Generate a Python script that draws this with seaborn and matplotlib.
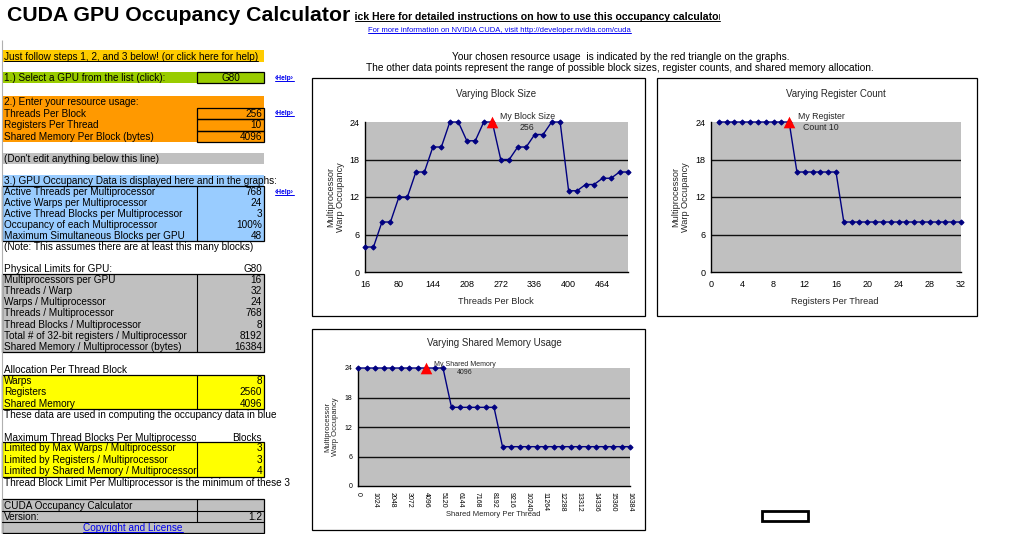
import numpy as np
import pandas as pd
import matplotlib
matplotlib.use("Agg")
import matplotlib.pyplot as plt
import seaborn as sns
from matplotlib.patches import Rectangle
from matplotlib.transforms import Bbox, TransformedBbox

# ---------------- data ----------------
block_sizes = [16, 32, 48, 64, 80, 96, 112, 128, 144, 160, 176, 192, 208, 224, 240, 256,
               272, 288, 304, 320, 336, 352, 368, 384, 400, 416, 432, 448, 464, 480, 496, 512]
block_occupancy = [4, 4, 8, 8, 12, 12, 16, 16, 20, 20, 24, 24, 21, 21, 24, 24,
                   18, 18, 20, 20, 22, 22, 24, 24, 13, 13, 14, 14, 15, 15, 16, 16]
register_counts = [1, 2, 3, 4, 5, 6, 7, 8, 9, 10, 11, 12, 13, 14, 15, 16,
                   17, 18, 19, 20, 21, 22, 23, 24, 25, 26, 27, 28, 29, 30, 31, 32]
register_occupancy = [24, 24, 24, 24, 24, 24, 24, 24, 24, 24, 16, 16, 16, 16, 16, 16,
                      8, 8, 8, 8, 8, 8, 8, 8, 8, 8, 8, 8, 8, 8, 8, 8]
smem_sizes = [0, 512, 1024, 1536, 2048, 2560, 3072, 3584, 4096, 4608, 5120, 5632, 6144,
              6656, 7168, 7680, 8192, 8704, 9216, 9728, 10240, 10752, 11264, 11776, 12288,
              12800, 13312, 13824, 14336, 14848, 15360, 15872, 16384]
smem_occupancy = [24, 24, 24, 24, 24, 24, 24, 24, 24, 24, 24, 16, 16, 16, 16, 16, 16,
                  8, 8, 8, 8, 8, 8, 8, 8, 8, 8, 8, 8, 8, 8, 8, 8]

my_block_size, my_block_occ = 256, 24
my_registers, my_reg_occ = 10, 24
my_smem, my_smem_occ = 4096, 24

occupancy_ticks = [0, 6, 12, 18, 24]
block_ticks = [16, 80, 144, 208, 272, 336, 400, 464]
register_ticks = [0, 4, 8, 12, 16, 20, 24, 28, 32]
smem_ticks = [0, 1024, 2048, 3072, 4096, 5120, 6144, 7168, 8192, 9216, 10240,
              11264, 12288, 13312, 14336, 15360, 16384]

gpu_name = "G80"
input_labels = ["Threads Per Block", "Registers Per Thread", "Shared Memory Per Block (bytes)"]
input_values = ["256", "10", "4096"]
occ_labels = ["Active Threads per Multiprocessor", "Active Warps per Multiprocessor",
              "Active Thread Blocks per Multiprocessor", "Occupancy of each Multiprocessor",
              "Maximum Simultaneous Blocks per GPU"]
occ_values = ["768", "24", "3", "100%", "48"]
limit_labels = ["Multiprocessors per GPU", "Threads / Warp", "Warps / Multiprocessor",
                "Threads / Multiprocessor", "Thread Blocks / Multiprocessor",
                "Total # of 32-bit registers / Multiprocessor",
                "Shared Memory / Multiprocessor (bytes)"]
limit_values = ["16", "32", "24", "768", "8", "8192", "16384"]
alloc_labels = ["Warps", "Registers", "Shared Memory"]
alloc_values = ["8", "2560", "4096"]
blocklim_labels = ["Limited by Max Warps / Multiprocessor", "Limited by Registers / Multiprocessor",
                   "Limited by Shared Memory / Multiprocessor"]
blocklim_values = ["3", "3", "4"]
version_value = "1.2"

# ---------------- style ----------------
sns.set_style("white")
plt.rcParams['font.family'] = ['Liberation Sans', 'DejaVu Sans']

W, H = 1023, 534
fig = plt.figure(figsize=(W / 100, H / 100), dpi=100)
fig.patch.set_facecolor("white")

bg = fig.add_axes([0, 0, 1, 1])
bg.set_xlim(0, W)
bg.set_ylim(H, 0)
bg.axis("off")

NAVY = "#000080"
FS = 7.2
underlined = []


def rect(x0, y0, x1, y1, fc="none", ec="none", lw=0.8, z=1):
    bg.add_patch(Rectangle((x0, y0), x1 - x0, y1 - y0, facecolor=fc, edgecolor=ec,
                           linewidth=lw, zorder=z))


def txt(x, y, s, ha="left", size=FS, color="black", weight="normal", under=False,
        clip=None, **kw):
    t = bg.text(x, y + 0.6, s, ha=ha, va="center", fontsize=size, color=color,
                fontweight=weight, zorder=5, **kw)
    if clip is not None:
        t.set_clip_box(TransformedBbox(Bbox([[clip[0], 0], [clip[1], H]]), bg.transData))
        t.set_clip_on(True)
    if under:
        underlined.append((t, color, clip))
    return t


def vline(x, y0, y1, color="black", lw=0.8):
    bg.plot([x, x], [y0, y1], color=color, lw=lw, zorder=3, solid_capstyle="butt")


L, DIV, R = 2, 197, 264
VX = 262

# title & header texts
txt(7, 14.5, "CUDA GPU Occupancy Calculator", size=15.3, weight="bold")
txt(344, 16, "Click Here for detailed instructions on how to use this occupancy calculator",
    size=7.6, weight="bold", under=True, clip=(355, 720))
txt(368, 30, "For more information on NVIDIA CUDA, visit http://developer.nvidia.com/cuda",
    size=5.5, color="#0000EE", under=True)
txt(621, 56, "Your chosen resource usage  is indicated by the red triangle on the graphs.",
    ha="center", size=7.3)
txt(620, 67, "The other data points represent the range of possible block sizes, register "
             "counts, and shared memory allocation.", ha="center", size=7.3)

# left spreadsheet gridline
vline(1.5, 40, H, color="#B0B0B0", lw=0.8)

# step banner
rect(L, 50, R, 62, fc="#FFCC00")
txt(4, 56, "Just follow steps 1, 2, and 3 below! (or click here for help)", under=True)

# 1.) GPU
rect(L, 71.5, R, 83, fc="#99CC00")
txt(4, 77.5, "1.) Select a GPU from the list (click):")
rect(DIV, 71.5, R, 83, ec="black", lw=0.9, z=2)
txt((DIV + R) / 2, 77.5, gpu_name, ha="center")


def help_link(y):
    txt(275, y, "\u2039Help\u203a", size=4.8, color="#0000EE", weight="bold", under=True)


help_link(77.5)

# 2.) resource usage
rect(L, 96, R, 141.5, fc="#FF9900")
txt(4, 101.5, "2.) Enter your resource usage:")
row_h = 11.5
for i, (lab, val) in enumerate(zip(input_labels, input_values)):
    y0 = 107.5 + i * row_h
    txt(4, y0 + row_h / 2, lab)
    rect(DIV, y0, R, y0 + row_h, ec="black", lw=0.9, z=2)
    txt(VX, y0 + row_h / 2, val, ha="right")
help_link(113)

# don't edit
rect(L, 152.5, R, 163.5, fc="#C0C0C0")
txt(4, 158, "(Don't edit anything below this line)")

# 3.) occupancy data
rect(L, 175, R, 186, fc="#99CCFF")
txt(4, 180.5, "3.) GPU Occupancy Data is displayed here and in the graphs:")
rect(L, 186, R, 241, fc="#99CCFF", ec="black", lw=0.9)
vline(DIV, 186, 241)
for i, (lab, val) in enumerate(zip(occ_labels, occ_values)):
    yc = 186 + 11 * i + 5.5
    txt(4, yc, lab)
    txt(VX, yc, val, ha="right")
help_link(191.5)
txt(4, 246.5, "(Note: This assumes there are at least this many blocks)")

# physical limits
txt(4, 268, "Physical Limits for GPU:")
txt(VX, 268, gpu_name, ha="right")
rect(L, 273.5, R, 352, fc="#C0C0C0", ec="black", lw=0.9)
vline(DIV, 273.5, 352)
for i, (lab, val) in enumerate(zip(limit_labels, limit_values)):
    yc = 273.5 + 11.2 * i + 5.6
    txt(4, yc, lab)
    txt(VX, yc, val, ha="right")

# allocation per thread block
txt(4, 369, "Allocation Per Thread Block")
rect(L, 375, R, 408.5, fc="#FFFF00", ec="black", lw=0.9)
vline(DIV, 375, 408.5)
for i, (lab, val) in enumerate(zip(alloc_labels, alloc_values)):
    yc = 375 + 11.17 * i + 5.6
    txt(4, yc, lab)
    txt(VX, yc, val, ha="right")
txt(4, 414, "These data are used in computing the occupancy data in blue")

# max thread blocks
txt(4, 437, "Maximum Thread Blocks Per Multiprocessor", clip=(0, 196))
txt(VX, 437, "Blocks", ha="right")
rect(L, 442, R, 476.5, fc="#FFFF00", ec="black", lw=0.9)
vline(DIV, 442, 476.5)
for i, (lab, val) in enumerate(zip(blocklim_labels, blocklim_values)):
    yc = 442 + 11.5 * i + 5.75
    txt(4, yc, lab)
    txt(VX, yc, val, ha="right")
txt(4, 482, "Thread Block Limit Per Multiprocessor is the minimum of these 3")

# version box
rect(L, 499, R, 533, fc="#C0C0C0", ec="black", lw=0.9)
bg.plot([L, R], [510.7, 510.7], color="black", lw=0.8, zorder=3)
bg.plot([L, R], [522, 522], color="black", lw=0.8, zorder=3)
vline(DIV, 499, 522)
txt(4, 505, "CUDA Occupancy Calculator")
txt(4, 516.5, "Version:")
txt(VX, 516.5, version_value, ha="right")
txt(133, 527.5, "Copyright and License", ha="center", color="#0000EE", under=True)

# selected cell marker
rect(762, 511, 808, 521, fc="white", ec="black", lw=2.0)

# chart frames
rect(312, 78, 645, 316, fc="white", ec="black", lw=0.9)
rect(657, 78, 977, 316, fc="white", ec="black", lw=0.9)
rect(312, 329, 645, 530, fc="white", ec="black", lw=0.9)


def px_axes(left, top, right, bottom):
    return fig.add_axes([left / W, 1 - bottom / H, (right - left) / W, (bottom - top) / H])


def style_chart(ax, xlim, xticks, tsize, title, xlabel, ylabel, ts, ls, geo, lab_pos):
    left, top, right, bottom = geo
    title_y, xlab_x, xlab_y, ylab_x = lab_pos
    w, h = right - left, bottom - top
    ax.set_facecolor("#C0C0C0")
    ax.set_xlim(*xlim)
    ax.set_ylim(0, 24)
    ax.set_yticks(occupancy_ticks)
    ax.set_xticks(xticks)
    for s in ["top", "right"]:
        ax.spines[s].set_visible(False)
    for s in ["left", "bottom"]:
        ax.spines[s].set_color("black")
        ax.spines[s].set_linewidth(1.0)
    for yv in occupancy_ticks[1:-1]:
        ax.axhline(yv, color="#101010", lw=1.0, zorder=0.5)
    ax.tick_params(axis="both", direction="out", length=2.5, width=0.8,
                   labelsize=tsize, colors="black")
    ax.tick_params(axis="y", pad=1.5)
    ax.tick_params(axis="x", pad=3)
    ax.set_title(title, fontsize=ts, y=(bottom - title_y) / h, va="center", pad=0)
    ax.set_xlabel(xlabel, fontsize=ls)
    ax.xaxis.set_label_coords((xlab_x - left) / w, (bottom - xlab_y) / h)
    ax.xaxis.label.set_va("center")
    ax.set_ylabel(ylabel, fontsize=ls, linespacing=1.1)
    ax.yaxis.set_label_coords((ylab_x - left) / w, 0.5)
    ax.yaxis.label.set_va("center")
    ax.grid(False)


def draw_series(ax, xs, ys, mx, my, annot, offset, asize, tri_s):
    df = pd.DataFrame({"x": xs, "y": ys})
    sns.lineplot(data=df, x="x", y="y", ax=ax, color=NAVY, lw=1.0, marker="D",
                 markersize=2.6, markeredgecolor=NAVY, markerfacecolor=NAVY, zorder=3,
                 clip_on=False)
    ax.scatter([mx], [my], marker="^", s=tri_s, color="#FF0000", zorder=6, clip_on=False,
               linewidths=0)
    ax.annotate(annot, xy=(mx, my), xytext=offset, textcoords="offset pixels",
                ha="center", va="center", fontsize=asize, zorder=7)


# chart 1: block size
g1 = (365, 122, 628, 272)
ax1 = px_axes(*g1)
draw_series(ax1, block_sizes, block_occupancy, my_block_size, my_block_occ,
            "My Block Size\n256", (35, 0), 6.3, 70)
style_chart(ax1, (16, 512), block_ticks, 6.5, "Varying Block Size", "Threads Per Block",
            "Multiprocessor\nWarp Occupancy", 7, 6.6, g1, (94, 496, 301, 336))

# chart 2: register count
g2 = (711, 122, 961, 272)
ax2 = px_axes(*g2)
draw_series(ax2, register_counts, register_occupancy, my_registers, my_reg_occ,
            "My Register\nCount 10", (32, 0), 6.3, 70)
style_chart(ax2, (0, 32), register_ticks, 6.5, "Varying Register Count",
            "Registers Per Thread", "Multiprocessor\nWarp Occupancy", 7, 6.6,
            g2, (94, 835, 301, 681))

# chart 3: shared memory
g3 = (358, 368, 630, 486)
ax3 = px_axes(*g3)
draw_series(ax3, smem_sizes, smem_occupancy, my_smem, my_smem_occ,
            "My Shared Memory\n4096", (39, 0), 5.0, 70)
style_chart(ax3, (0, 16384), smem_ticks, 5.0, "Varying Shared Memory Usage",
            "Shared Memory Per Thread", "Multiprocessor\nWarp Occupancy", 7, 5.5,
            g3, (343, 493, 515, 332))
ax3.set_xticklabels([str(v) for v in smem_ticks], rotation=-90)
ax3.tick_params(axis="x", pad=1.5)

# underlines
fig.canvas.draw()
inv = bg.transData.inverted()
for t, col, clip in underlined:
    bb = t.get_window_extent()
    (x0, y0), (x1, y1) = inv.transform([[bb.x0, bb.y0], [bb.x1, bb.y1]])
    if clip is not None:
        x0, x1 = max(x0, clip[0]), min(x1, clip[1])
    yb = max(y0, y1) - 1.0
    bg.plot([x0, x1], [yb, yb], color=col, lw=0.7, zorder=5)

fig.savefig("out.png", dpi=100, facecolor="white")
